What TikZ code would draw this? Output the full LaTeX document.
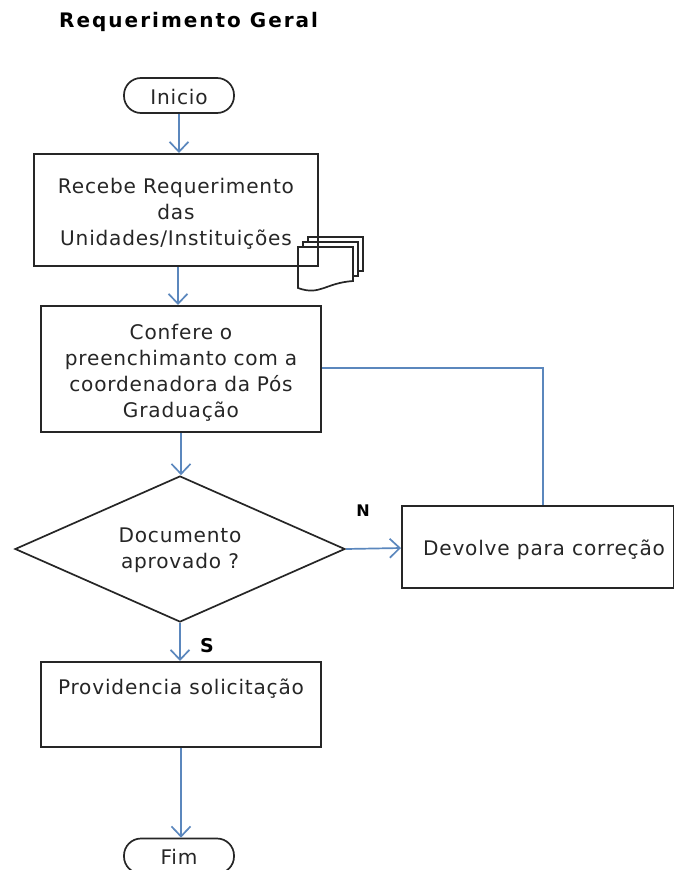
\documentclass[tikz,border=0pt]{standalone}
\usepackage{fontspec}
\setmainfont{DejaVu Sans}
\newfontfamily\bodyf[LetterSpace=4]{DejaVu Sans}
\newfontfamily\titlef[LetterSpace=10]{DejaVu Sans}
\usetikzlibrary{arrows.meta,shapes.geometric}
\definecolor{flow}{HTML}{5B87BD}
\definecolor{ink}{HTML}{262626}
\tikzset{
  x=1pt,y=-1pt,
  txt/.style={font=\bodyf\fontsize{20.1}{26}\selectfont,text=ink,align=center,inner sep=0pt},
  box/.style={draw=ink,line width=2pt,fill=white,inner sep=0pt,anchor=north west},
  term/.style={draw=ink,line width=1.7pt,fill=white,rounded corners=17pt,inner sep=0pt,minimum width=110pt,minimum height=35pt},
  flowline/.style={draw=flow,line width=1.7pt},
  arr/.style={flowline,-{Straight Barb[length=10pt,width=19pt,line width=1.7pt]}},
  lab/.style={font=\bfseries\fontsize{16}{18}\selectfont,inner sep=0pt,text=black},
}
\begin{document}
\begin{tikzpicture}
\useasboundingbox (0,0) rectangle (674,870);
\clip (0,0) rectangle (674,870);
\node[font=\titlef\bfseries\fontsize{20}{22}\selectfont,anchor=west,inner sep=0pt] (title) at (59,22) {Requerimento Geral};

\node[term] (ini) at (179,95.5) {};
\node[txt] at (179,97) {Inicio};
\node[box,minimum width=284pt,minimum height=112pt] (rec) at (33,153) {};
\node[txt] (rect) at (176,214) {Recebe Requerimento\\das\\Unidades/Instituições};
\node[box,minimum width=280pt,minimum height=126pt] (conf) at (40,305) {};
\node[txt,text width=270pt] (conft) at (181,372.5) {Confere o\\preenchimanto com a\\coordenadora da Pós\\Graduação};
\node[draw=ink,line width=1.7pt,fill=white,diamond,aspect=2.25,inner sep=0pt,minimum width=330pt,minimum height=146pt] (dec) at (180,549) {};
\node[txt] at (180,550.5) {Documento\\aprovado ?};
\node[box,minimum width=272pt,minimum height=82pt] (dev) at (401,505) {};
\node[txt] at (544,550) {Devolve para correção};
\node[box,minimum width=280pt,minimum height=85pt] (prov) at (40,661) {};
\node[txt] at (181,689) {Providencia solicitação};
\node[term] (fim) at (179,856) {};
\node[txt] at (179,857) {Fim};

\foreach \dx/\dy in {10/-10,5/-5}{
  \draw[line width=1.7pt,draw=ink,fill=white] (298+\dx,247+\dy) -- ++(55,0) -- ++(0,34) -- ++(-55,0) -- cycle;
}
\draw[line width=1.7pt,draw=ink,fill=white] (298,247) -- (353,247) -- (353,281) .. controls (325,283) and (320,296) .. (298,288) -- cycle;
\draw[line width=2pt,draw=ink] (317.5,220) -- (317.5,265.5) -- (298,265.5);

\draw[arr] (ini) -- (ini |- rec.north);
\draw[arr] (rec.south -| 178,0) -- (178,305);
\draw[arr] (conf.south -| 181,0) -- (dec.north -| 181,0);
\draw[arr] (dec.south) -- (prov.north -| dec.south);
\draw[arr] (dec.east) -- (dev.west |- 0,548);
\draw[flowline] (dev.north -| 543,0) -- (543,368) -- (conf.east |- 0,368);
\draw[arr] (prov.south -| 181,0) -- (fim.north -| 181,0);
\node[lab] (n) at (363,511) {N};
\node[lab,font=\bfseries\fontsize{19}{20}\selectfont] (s) at (207,646) {S};
\end{tikzpicture}
\end{document}
